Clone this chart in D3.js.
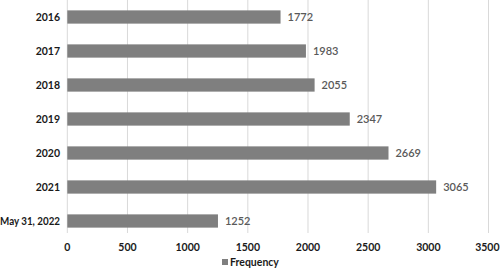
<!DOCTYPE html>
<html><head><meta charset="utf-8">
<script src="https://cdn.jsdelivr.net/npm/d3@7"></script>
<style>body{margin:0;background:#fff}svg{display:block}</style>
</head><body>
<script>
const categories = ["2016","2017","2018","2019","2020","2021","May 31, 2022"];
const frequency = [1772,1983,2055,2347,2669,3065,1252];
const xTicks = [0,500,1000,1500,2000,2500,3000,3500];
const seriesName = "Frequency";

const W=500,H=268;
const svg=d3.select("body").append("svg").attr("width",W).attr("height",H);
const font="Lato, 'Liberation Sans', sans-serif";
const x=d3.scaleLinear().domain([0,3500]).range([67.3,488.5]);
const y=d3.scaleBand().domain(categories).range([0,238]).paddingInner(0.61).paddingOuter(0.305);

svg.append("g").selectAll("line").data(xTicks).join("line")
 .attr("x1",d=>x(d)).attr("x2",d=>x(d)).attr("y1",0).attr("y2",233)
 .attr("stroke","#d9d9d9").attr("stroke-width",1);

svg.append("g").selectAll("rect").data(frequency).join("rect")
 .attr("x",x(0)).attr("y",(d,i)=>y(categories[i]))
 .attr("width",d=>x(d)-x(0)).attr("height",y.bandwidth())
 .attr("fill","#7f7f7f");

svg.append("g").selectAll("text").data(frequency).join("text")
 .attr("x",d=>x(d)+7).attr("y",(d,i)=>y(categories[i])+y.bandwidth()/2)
 .attr("dy","0.35em").attr("font-family",font).attr("font-size",11).attr("font-weight",600)
 .attr("fill","#595959").text(d=>d);

svg.append("g").selectAll("text").data(categories).join("text")
 .attr("x",60).attr("y",d=>y(d)+y.bandwidth()/2).attr("dy","0.35em")
 .attr("text-anchor","end").attr("font-family",font).attr("font-size",10.5).attr("font-weight",700)
 .attr("fill","#1a1a1a").text(d=>d)
 .each(function(){ const w=this.getComputedTextLength(); if(w>60){ d3.select(this).attr("textLength",60).attr("lengthAdjust","spacingAndGlyphs"); } });

svg.append("g").selectAll("text").data(xTicks).join("text")
 .attr("x",d=>x(d)).attr("y",247).attr("dy","0.35em").attr("text-anchor","middle")
 .attr("font-family",font).attr("font-size",10.5).attr("font-weight",700)
 .attr("fill","#1a1a1a").text(d=>d)
 .each(function(){ const b=this.getBBox(); if(b.x+b.width>W-0.5){ d3.select(this).attr("dx",(W-0.5)-(b.x+b.width)); } });

const lg=svg.append("g");
lg.append("rect").attr("x",222).attr("y",259).attr("width",6).attr("height",6).attr("fill","#7f7f7f");
lg.append("text").attr("x",230).attr("y",262).attr("dy","0.35em").attr("font-family",font)
 .attr("font-size",10.5).attr("font-weight",700).attr("fill","#1a1a1a").text(seriesName);
</script>
</body></html>
